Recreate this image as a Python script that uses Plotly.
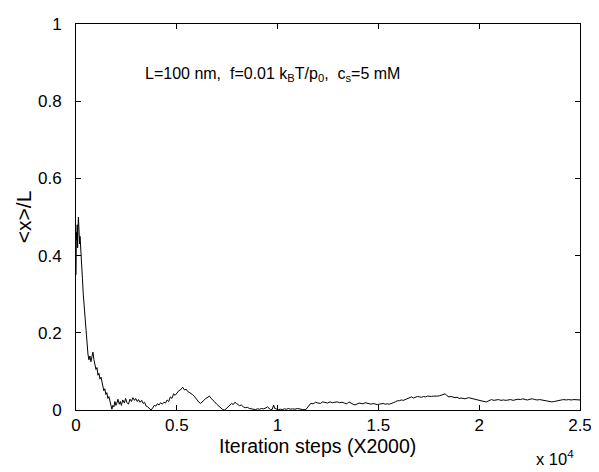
import plotly.graph_objects as go

# iteration steps (raw, axis shows x 10^4) and <x>/L values
steps = [
    0, 10, 20, 40, 60, 80, 100, 120, 140, 160, 180, 200, 240, 280, 320, 360, 400, 445,
    500, 550, 593, 640, 690, 740, 790, 840, 890, 940, 990, 1040, 1090, 1140, 1190, 1240,
    1285, 1330, 1380, 1430, 1480, 1530, 1580, 1630, 1680, 1730, 1780, 1830, 1880, 1930,
    1980, 2030, 2080, 2150, 2200, 2250, 2320, 2400, 2460, 2520, 2600, 2680, 2750, 2820,
    2900, 2960, 3040, 3100, 3180, 3260, 3330, 3400, 3480, 3560, 3650, 3720, 3800, 3880,
    3960, 4040, 4120, 4200, 4280, 4360, 4440, 4520, 4600, 4680, 4760, 4840, 4920, 5000,
    5100, 5200, 5290, 5380, 5460, 5540, 5620, 5700, 5780, 5860, 5940, 6020, 6100, 6180,
    6260, 6340, 6440, 6540, 6620, 6700, 6780, 6880, 6980, 7080, 7180, 7280, 7380, 7480,
    7560, 7640, 7720, 7800, 7880, 7960, 8040, 8120, 8200, 8300, 8400, 8500, 8600, 8700,
    8800, 8900, 9000, 9100, 9200, 9300, 9400, 9500, 9580, 9660, 9740, 9800, 9860, 9940,
    10040, 10140, 10240, 10340, 10440, 10540, 10640, 10740, 10860, 10980, 11100, 11250,
    11400, 11520, 11640, 11760, 11890, 12000, 12120, 12240, 12360, 12480, 12600, 12720,
    12840, 12960, 13080, 13200, 13320, 13440, 13535, 13640, 13740, 13840, 13940, 14040,
    14140, 14240, 14340, 14440, 14540, 14640, 14740, 14840, 14940, 15040, 15140, 15240,
    15340, 15440, 15540, 15640, 15740, 15840, 15940, 16040, 16140, 16240, 16340, 16440,
    16540, 16640, 16740, 16840, 16940, 17040, 17140, 17240, 17340, 17440, 17540, 17640,
    17740, 17840, 17940, 18040, 18140, 18310, 18400, 18500, 18600, 18700, 18800, 18900,
    19000, 19100, 19200, 19300, 19466, 19600, 19740, 19880, 20000, 20120, 20240, 20360,
    20480, 20600, 20720, 20840, 20960, 21080, 21200, 21320, 21440, 21560, 21680, 21800,
    21920, 22040, 22160, 22280, 22400, 22520, 22640, 22760, 22880, 23000, 23120, 23240,
    23360, 23480, 23600, 23720, 23840, 23960, 24080, 24200, 24320, 24440, 24560, 24700,
    24850, 25000,
]
x_over_L = [
    0.35, 0.41, 0.46, 0.44, 0.48, 0.42, 0.47, 0.50, 0.46, 0.49, 0.43, 0.45, 0.42, 0.38, 0.34, 0.30, 0.27, 0.245,
    0.20, 0.17, 0.145, 0.13, 0.14, 0.125, 0.135, 0.15, 0.13, 0.12, 0.105, 0.11, 0.09, 0.095, 0.08, 0.085,
    0.07, 0.065, 0.05, 0.055, 0.04, 0.045, 0.03, 0.035, 0.025, 0.012, 0.002, 0.012, 0.008, 0.022,
    0.012, 0.018, 0.028, 0.015, 0.022, 0.012, 0.026, 0.018, 0.03, 0.02, 0.015, 0.028, 0.022, 0.032,
    0.025, 0.03, 0.022, 0.027, 0.02, 0.025, 0.017, 0.02, 0.01, 0.008, 0.003, 0.0, 0.005, 0.012,
    0.01, 0.016, 0.013, 0.019, 0.015, 0.02, 0.018, 0.026, 0.022, 0.034, 0.03, 0.042, 0.038, 0.045,
    0.05, 0.053, 0.059, 0.052, 0.054, 0.048, 0.046, 0.042, 0.04, 0.036, 0.03, 0.025, 0.02, 0.017,
    0.02, 0.025, 0.03, 0.034, 0.036, 0.03, 0.027, 0.021, 0.015, 0.01, 0.004, 0.001, 0.0, 0.005,
    0.01, 0.013, 0.017, 0.014, 0.02, 0.017, 0.014, 0.011, 0.013, 0.008, 0.006, 0.007, 0.004, 0.003,
    0.002, 0.001, 0.003, 0.002, 0.004, 0.003, 0.005, 0.008, 0.004, 0.001, 0.002, 0.013, 0.004, 0.003,
    0.001, 0.002, 0.001, 0.003, 0.002, 0.004, 0.002, 0.003, 0.002, 0.004, 0.002, 0.001,
    0.001, 0.01, 0.017, 0.016, 0.02, 0.018, 0.017, 0.021, 0.019, 0.018, 0.021, 0.019,
    0.02, 0.021, 0.019, 0.02, 0.018, 0.016, 0.021, 0.017, 0.015, 0.013, 0.016, 0.018,
    0.017, 0.016, 0.019, 0.017, 0.016, 0.015, 0.017, 0.016, 0.014, 0.015, 0.016, 0.017,
    0.015, 0.016, 0.015, 0.018, 0.019, 0.021, 0.024, 0.024, 0.026, 0.025, 0.027, 0.03,
    0.033, 0.034, 0.031, 0.033, 0.035, 0.034, 0.033, 0.035, 0.034, 0.036, 0.035, 0.035,
    0.036, 0.037, 0.036, 0.037, 0.039, 0.042, 0.037, 0.034, 0.035, 0.033, 0.032, 0.033,
    0.03, 0.031, 0.03, 0.029, 0.032, 0.03, 0.029, 0.027, 0.026, 0.024, 0.022, 0.021,
    0.025, 0.027, 0.025, 0.026, 0.027, 0.025, 0.026, 0.025, 0.026, 0.027, 0.025, 0.026,
    0.028, 0.027, 0.029, 0.027, 0.026, 0.028, 0.029, 0.027, 0.026, 0.027, 0.026, 0.025,
    0.024, 0.022, 0.021, 0.022, 0.024, 0.025, 0.026, 0.027, 0.026, 0.027, 0.026, 0.027,
    0.027, 0.026,
]

x_tickvals = [0, 5000, 10000, 15000, 20000, 25000]
x_ticktext = ['0', '0.5', '1', '1.5', '2', '2.5']
y_tickvals = [0, 0.2, 0.4, 0.6, 0.8, 1]
y_ticktext = ['0', '0.2', '0.4', '0.6', '0.8', '1']

fnt = 'Liberation Sans, Arial, Helvetica, sans-serif'

# the page has an 8px body margin, so the figure is 16px smaller than the window
W, H = 591, 464
ML, MR, MT, MB = 68, 17, 7, 62
pw, ph = W - ML - MR, H - MT - MB


def px_to_paper(wx, wy):
    # window pixel -> paper coords of the plot area
    return (wx - 8 - ML) / pw, ((H - MB) - (wy - 8)) / ph


fig = go.Figure()
fig.add_trace(go.Scatter(
    x=steps, y=x_over_L,
    mode='lines',
    line=dict(color='black', width=1),
    showlegend=False
))

# parameters label inside the axes
fig.add_annotation(
    x=3300, y=0.87, xref='x', yref='y',
    xanchor='left', yanchor='middle',
    text='L=100 nm,&nbsp; f=0.01 k<sub>B</sub>T/p<sub>0</sub>,&nbsp; c<sub>s</sub>=5 mM',
    showarrow=False,
    font=dict(family=fnt, size=16, color='black')
)

# axis titles
tx, ty = px_to_paper(318, 447)
fig.add_annotation(
    x=tx, y=ty, xref='paper', yref='paper',
    xanchor='center', yanchor='middle',
    text='Iteration steps (X2000)', showarrow=False,
    font=dict(family=fnt, size=19.5, color='black')
)
tx, ty = px_to_paper(23, 212)
fig.add_annotation(
    x=tx, y=0.5, xref='paper', yref='paper',
    xanchor='center', yanchor='middle', textangle=-90,
    text='&lt;x&gt;/L', showarrow=False,
    font=dict(family=fnt, size=21, color='black')
)

# exponent of the x axis
tx, ty = px_to_paper(578, 459)
fig.add_annotation(
    x=tx, y=ty, xref='paper', yref='paper',
    xanchor='right', yanchor='middle',
    text='x 10<sup>4</sup>',
    showarrow=False,
    font=dict(family=fnt, size=16.5, color='black')
)

fig.update_layout(
    width=W, height=H,
    margin=dict(l=ML, r=MR, t=MT, b=MB),
    plot_bgcolor='white',
    paper_bgcolor='white',
    font=dict(family=fnt, size=16, color='black'),
)

fig.update_xaxes(
    range=[0, 25000], tickvals=x_tickvals, ticktext=x_ticktext,
    showgrid=False, zeroline=False,
    showline=True, linecolor='black', linewidth=1, mirror='ticks',
    ticks='inside', ticklen=5, tickcolor='black',
    tickfont=dict(size=17), ticklabeloverflow='allow',
)
fig.update_yaxes(
    range=[0, 1], tickvals=y_tickvals, ticktext=y_ticktext,
    showgrid=False, zeroline=False,
    showline=True, linecolor='black', linewidth=1, mirror='ticks',
    ticks='inside', ticklen=5, tickcolor='black',
    tickfont=dict(size=17), ticklabeloverflow='allow',
    ticklabelstandoff=10,
)

fig.write_html("out.html")
